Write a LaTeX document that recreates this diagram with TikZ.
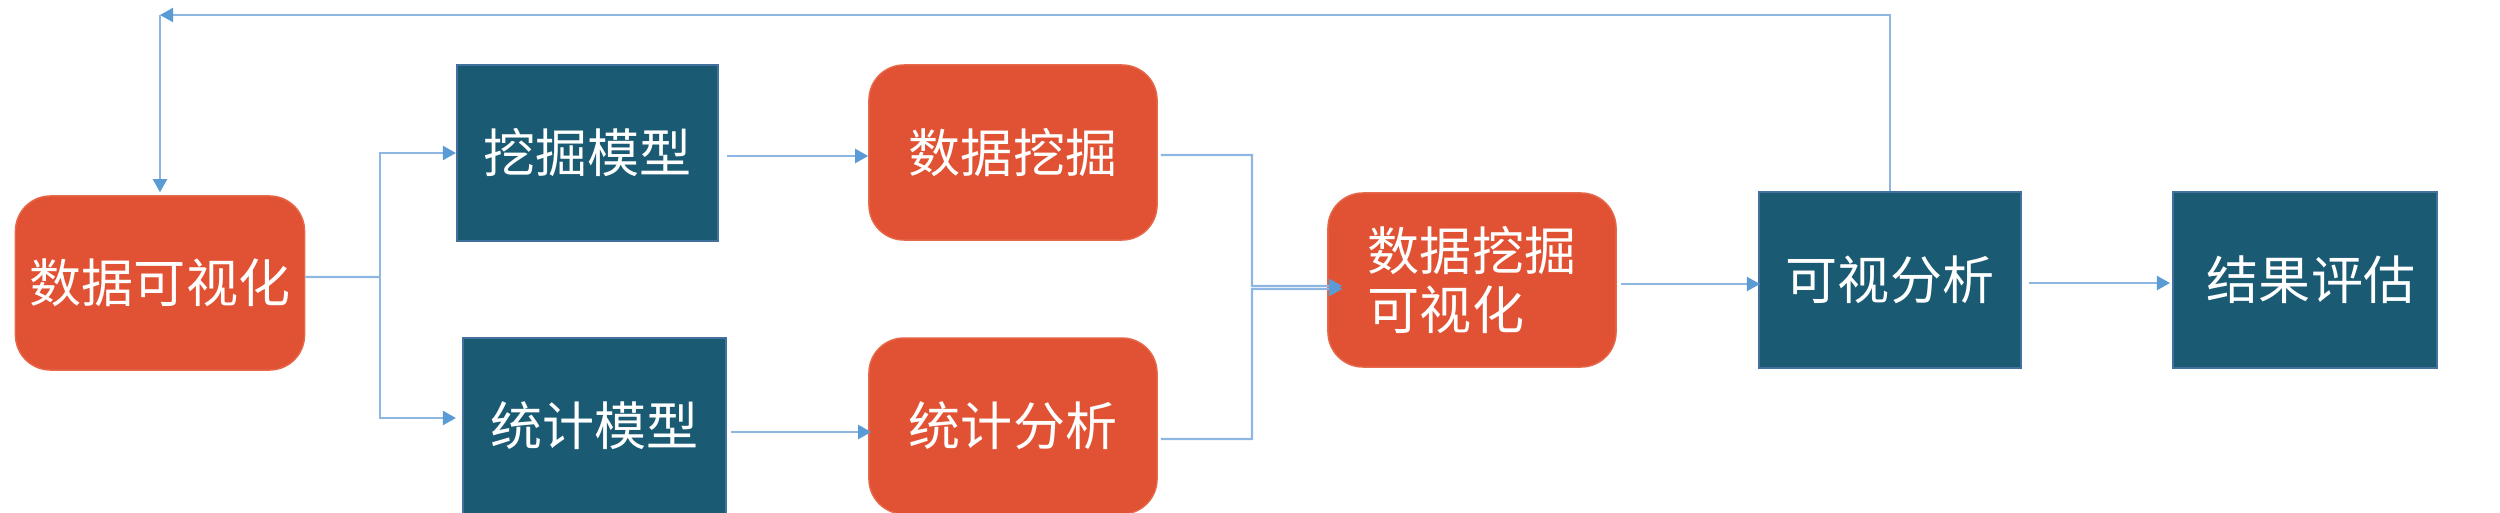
\documentclass[tikz,border=0pt]{standalone}
\usepackage{fontspec}
\setmainfont{Noto Sans CJK SC}
\usetikzlibrary{arrows.meta}
\definecolor{orng}{HTML}{E05233}
\definecolor{orngb}{HTML}{E6694B}
\definecolor{tealf}{HTML}{1A5B73}
\definecolor{tealb}{HTML}{41719C}
\definecolor{linec}{HTML}{8DB6E2}
\definecolor{tipc}{HTML}{5B9BD5}
\begin{document}
\begin{tikzpicture}[x=0.01cm,y=-0.01cm,
  boxtext/.style={text=white,inner sep=0pt,font=\fontsize{14.8pt}{16.6pt}\selectfont},
  obox/.style={boxtext,draw=orngb,line width=0.4pt,fill=orng,rounded corners=0.35cm},
  tbox/.style={boxtext,draw=tealb,line width=0.55pt,fill=tealf},
  wire/.style={draw=linec,line width=0.6pt},
  conn/.style={wire,-{Triangle[length=0.13cm,width=0.14cm,color=tipc]}}]
\useasboundingbox (0,0) rectangle (2500,512);
\clip (0,0) rectangle (2500,512);
% boxes
\node[obox,minimum width=2.89cm,minimum height=1.74cm] (A) at (160,283) {数据可视化\hspace{0.2cm}};
\node[tbox,minimum width=2.61cm,minimum height=1.76cm] (B) at (587.5,153) {挖掘模型\hspace{0.14cm}};
\node[tbox,minimum width=2.63cm,minimum height=1.76cm] (C) at (594.5,426) {统计模型\hspace{0.2cm}};
\node[obox,minimum width=2.88cm,minimum height=1.75cm] (D) at (1013,152.5) {数据挖掘\hspace{0.18cm}};
\node[obox,minimum width=2.88cm,minimum height=1.76cm] (E) at (1013,426) {统计分析\hspace{0.14cm}};
\node[obox,minimum width=2.88cm,minimum height=1.74cm,align=left] (F) at (1472,280) {数据挖掘\hspace{0.04cm}\\可视化\hspace{1cm}};
\node[tbox,minimum width=2.62cm,minimum height=1.76cm] (G) at (1890,280) {可视分析\hspace{0.04cm}};
\node[tbox,minimum width=2.64cm,minimum height=1.76cm] (H) at (2305,280) {\hspace{0.12cm}结果评估};
% connectors
\coordinate (s1) at (380,277);
\draw[wire] ([yshift=0.06cm]A.east) -- (s1);
\draw[conn] (s1) |- (B.west);
\draw[conn] (s1) |- ([xshift=-0.06cm,yshift=0.08cm]C.west);
\draw[conn] ([xshift=0.08cm,yshift=-0.03cm]B.east) coordinate (b1) -- (D.west |- b1);
\draw[conn] ([xshift=0.04cm,yshift=-0.06cm]C.east) coordinate (c1) -- ([xshift=0.03cm]E.west |- c1);
\coordinate (m1) at (1252,286);
\coordinate (m2) at (1252,289);
\draw[conn] ([xshift=0.03cm,yshift=-0.025cm]D.east) -| (m1) -- ([xshift=0.15cm,yshift=-0.06cm]F.west);
\draw[conn] ([xshift=0.03cm,yshift=-0.13cm]E.east) -| (m2) -- ([xshift=0.15cm,yshift=-0.09cm]F.west);
\draw[conn] ([xshift=0.04cm,yshift=-0.04cm]F.east) coordinate (f1) -- ([xshift=0.02cm]G.west |- f1);
\draw[conn] ([xshift=0.07cm,yshift=-0.03cm]G.east) coordinate (g1) -- ([xshift=-0.02cm]H.west |- g1);
\coordinate (top) at (160,15);
\draw[conn] (G.north) |- (top);
\draw[conn] (top) -- ([yshift=0.03cm]A.north);
\end{tikzpicture}
\end{document}
